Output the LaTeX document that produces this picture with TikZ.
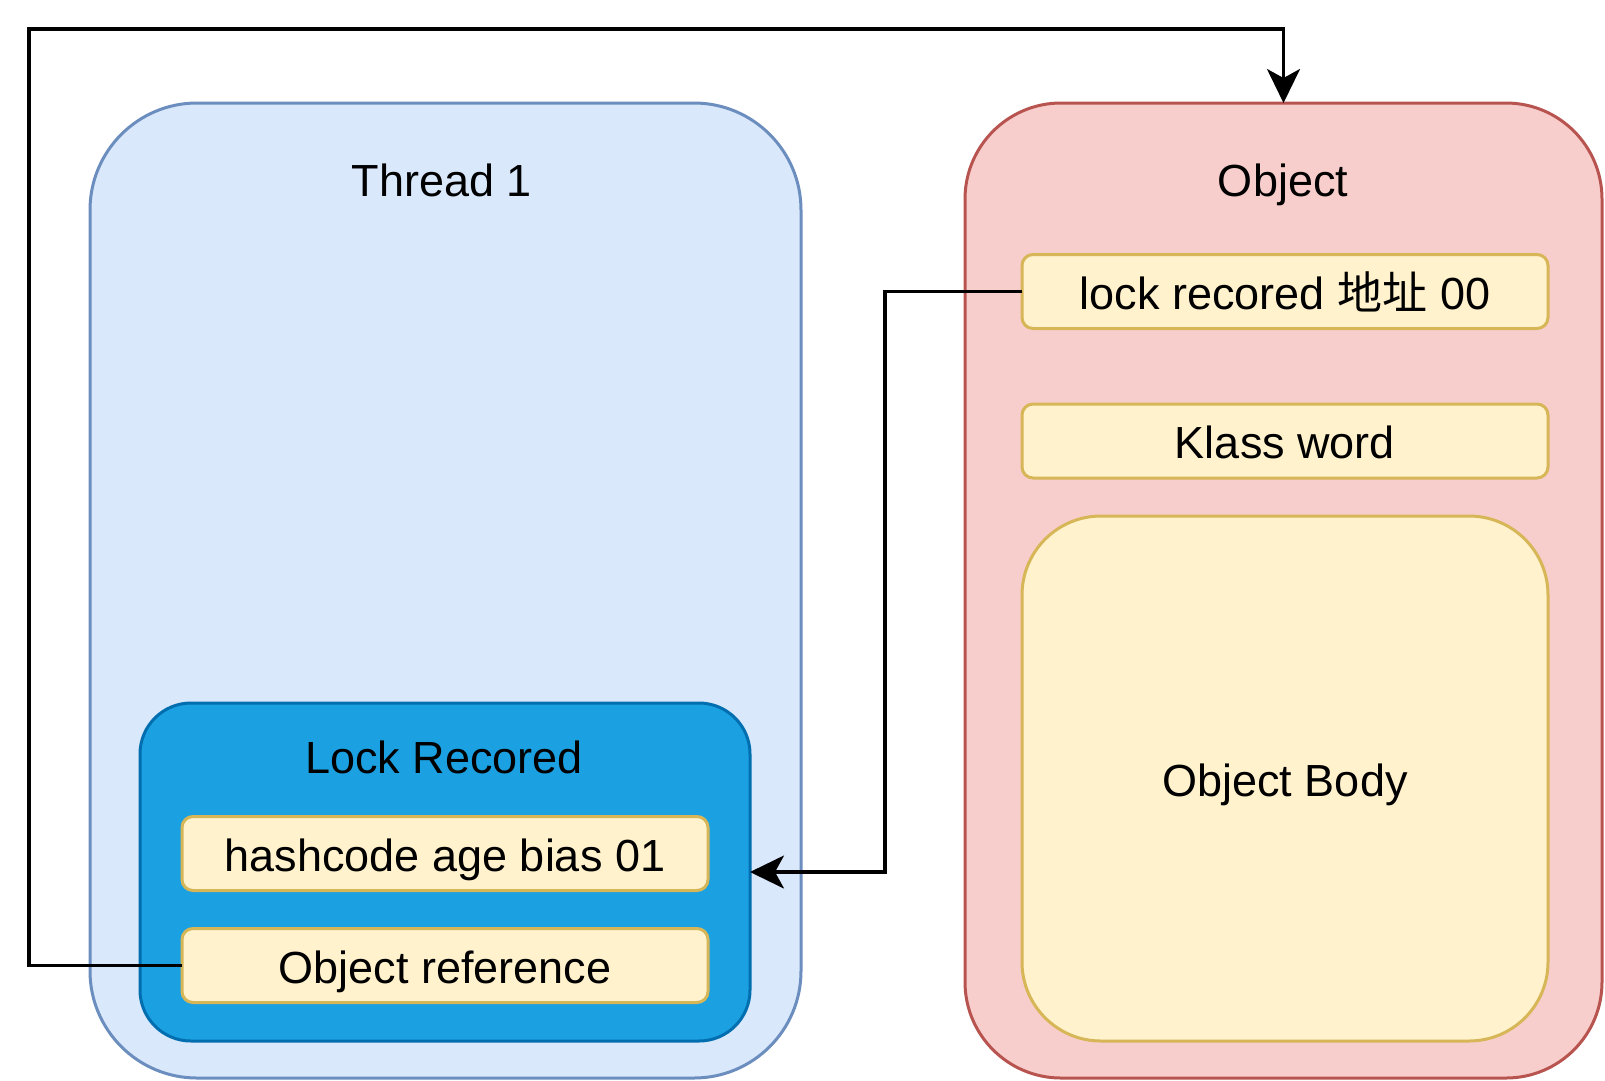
\documentclass[tikz,border=0pt]{standalone}
\usepackage{fontspec}
\setmainfont{Liberation Sans}
\newfontfamily\cjk{Noto Sans CJK SC}
\usetikzlibrary{arrows.meta}
\definecolor{thrfill}{HTML}{DAE8FC}
\definecolor{thrline}{HTML}{6C8EBF}
\definecolor{objfill}{HTML}{F8CECC}
\definecolor{objline}{HTML}{B85450}
\definecolor{lrfill}{HTML}{1BA1E2}
\definecolor{lrline}{HTML}{006EAF}
\definecolor{yfill}{HTML}{FFF2CC}
\definecolor{yline}{HTML}{D6B656}
\tikzset{
  box/.style={rectangle, inner sep=0pt, outer sep=0pt, line width=3pt},
  container/.style={box, draw=thrline, fill=thrfill},
  objbox/.style={box, draw=objline, fill=objfill},
  lrbox/.style={box, draw=lrline, fill=lrfill},
  ybox/.style={box, draw=yline, fill=yfill, rounded corners=11pt, minimum width=526pt, minimum height=74pt},
  lbl/.style={inner sep=0pt, font=\fontsize{45}{54}\selectfont, text height=35pt, text depth=0pt},
  conn/.style={line width=3.2pt, draw=black},
  tip/.style={-{Stealth[length=34pt,width=33pt,inset=9pt]}}
}
\begin{document}
\begin{tikzpicture}[x=1pt,y=-1pt]
\useasboundingbox (0,0) rectangle (1605,1080);
% containers
\node[container, rounded corners=107pt, minimum width=711pt, minimum height=975pt] (thread) at (445.5,590.5) {};
\node[objbox, rounded corners=96pt, minimum width=637pt, minimum height=975pt] (object) at (1283.5,590.5) {};
\node[lrbox, rounded corners=51pt, minimum width=610pt, minimum height=338pt] (lock) at (445,872) {};
% labels
\node[lbl] (threadlbl) at (442,179) {Thread 1};
\node[lbl] (objlbl) at (1283,179) {Object};
\node[lbl] (locklbl) at (444,756) {Lock Recored};
% yellow boxes
\node[ybox, lbl] (hash) at (445,853.5) {hashcode age bias 01};
\node[ybox, lbl] (objref) at (445,965.5) {Object reference};
\node[ybox, lbl] (addr) at (1285,291.5) {lock recored {\cjk 地址} 00};
\node[ybox, lbl] (klass) at (1285,441) {Klass word};
\node[ybox, lbl, rounded corners=79pt, minimum height=525pt] (body) at (1285,778.5) {Object Body};
% connectors
\coordinate (c1) at (29,29);
\coordinate (c2) at (885,0);
\draw[conn, tip] (objref.west) -| (c1) -| (object.north);
\draw[conn, tip] (addr.west) -| (c2 |- lock.east) -- (lock.east);
\end{tikzpicture}
\end{document}
